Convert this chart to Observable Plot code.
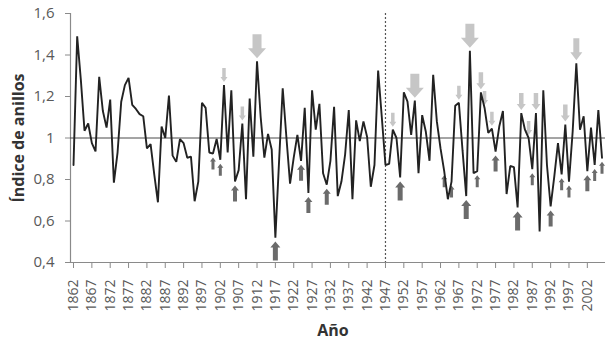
<!DOCTYPE html>
<html>
<head>
<meta charset="utf-8">
<script src="https://cdn.jsdelivr.net/npm/d3@7"></script>
<script src="https://cdn.jsdelivr.net/npm/@observablehq/plot@0.6"></script>
<style>
  html, body { margin: 0; padding: 0; background: #fff; }
  #chart svg { display: block; }
</style>
</head>
<body>
<div id="chart"></div>
<script>
// ---- data ----
const firstYear = 1862;
const ringIndex = [
  0.87, 1.49, 1.28, 1.035, 1.07, 0.975, 0.935, 1.295, 1.13, 1.05,
  1.185, 0.785, 0.93, 1.175, 1.255, 1.29, 1.16, 1.14, 1.115, 1.105,
  0.95, 0.97, 0.825, 0.69, 1.055, 1.0, 1.205, 0.915, 0.885, 0.995,
  0.975, 0.905, 0.91, 0.695, 0.79, 1.17, 1.145, 0.93, 0.925, 0.995,
  0.895, 1.255, 0.93, 1.23, 0.79, 0.845, 1.07, 0.705, 1.19, 0.91,
  1.37, 1.1, 0.905, 1.02, 0.945, 0.52, 0.885, 1.24, 1.005, 0.78,
  0.905, 1.015, 0.89, 1.145, 0.735, 1.23, 1.04, 1.165, 0.83, 0.775,
  0.89, 1.15, 0.72, 0.79, 0.92, 1.135, 0.705, 1.085, 0.985, 1.08,
  1.005, 0.765, 0.87, 1.325, 1.1, 0.87, 0.875, 1.04, 1.0, 0.81,
  1.22, 1.175, 1.015, 1.18, 0.83, 1.11, 1.03, 0.89, 1.305, 1.08,
  0.95, 0.84, 0.705, 0.79, 1.155, 1.17, 0.94, 0.72, 1.42, 0.83,
  0.84, 1.22, 1.145, 1.025, 1.045, 0.935, 1.055, 1.13, 0.73, 0.865,
  0.86, 0.665, 1.12, 1.04, 1.0, 0.85, 1.12, 0.55, 1.23, 0.87,
  0.67, 0.815, 0.975, 0.825, 1.065, 0.79, 1.03, 1.36, 1.04, 1.105,
  0.84, 1.05, 0.87, 1.135, 0.905
];
const xTicks = [1862, 1867, 1872, 1877, 1882, 1887, 1892, 1897, 1902, 1907,
  1912, 1917, 1922, 1927, 1932, 1937, 1942, 1947, 1952, 1957, 1962, 1967,
  1972, 1977, 1982, 1987, 1992, 1997, 2002];
const yTicks = [0.4, 0.6, 0.8, 1.0, 1.2, 1.4, 1.6];
const referenceLevel = [1];
const breakYear = [1947];
// light arrows pointing down onto peaks, dark arrows pointing up to troughs
const downYears = [1903, 1908, 1912, 1949, 1955, 1967, 1970, 1973, 1974, 1976, 1984, 1986, 1988, 1996, 1999];
const downTiers = [1, 1, 4, 1, 4, 1, 4, 2, 1, 1, 2, 1, 2, 2, 3];
const upYears = [1900, 1902, 1906, 1917, 1924, 1926, 1931, 1951, 1963, 1965, 1969, 1972, 1977, 1983, 1987, 1992, 1995, 1997, 2002, 2004, 2006];
const upTiers = [1, 1, 2, 3, 2, 2, 2, 3, 1, 1, 3, 1, 2, 3, 1, 2, 1, 1, 2, 1, 1];

// ---- build table ----
const series = ringIndex.map((v, i) => ({year: firstYear + i, value: v}));
const valueOf = y => series.find(d => d.year === y).value;
const downData = downYears.map((y, i) => ({year: y, value: valueOf(y), tier: downTiers[i]}));
const upData = upYears.map((y, i) => ({year: y, value: valueOf(y), tier: upTiers[i]}));

// block-arrow symbols (tip at the origin)
const downDims = {1: [7, 3.5, 5, 14], 2: [9, 4.5, 6, 17], 3: [12, 6, 8, 22], 4: [18, 9, 10, 24]};
const upDims = {1: [6, 3, 4, 12], 2: [8, 4, 5, 16], 3: [10, 5, 6, 19]};
function arrowSymbol([w, s, h, l], dir, gap) {
  return {
    draw(ctx) {
      const g = gap * dir;
      const p = [[0, 0], [w / 2, h], [s / 2, h], [s / 2, l], [-s / 2, l], [-s / 2, h], [-w / 2, h]];
      ctx.moveTo(p[0][0], g + p[0][1] * dir);
      for (let k = 1; k < p.length; k++) ctx.lineTo(p[k][0], g + p[k][1] * dir);
      ctx.closePath();
    }
  };
}

const fmtY = d => d3.format(".1~f")(d).replace(".", ",");
const xDomain = [1861.18, 2006.95];

const arrowMarks = [];
for (const t of Object.keys(downDims)) {
  arrowMarks.push(Plot.dot(downData.filter(d => d.tier === +t), {
    x: "year", y: "value", symbol: arrowSymbol(downDims[t], -1, 3),
    fill: "#c6c6c6", stroke: "none", r: 5
  }));
}
for (const t of Object.keys(upDims)) {
  arrowMarks.push(Plot.dot(upData.filter(d => d.tier === +t), {
    x: "year", y: "value", symbol: arrowSymbol(upDims[t], 1, 4),
    fill: "#6b6b6b", stroke: "none", r: 5
  }));
}

const chart = Plot.plot({
  width: 607,
  height: 339,
  marginLeft: 70,
  marginRight: 2,
  marginTop: 13,
  marginBottom: 77,
  style: {fontFamily: "'Open Sans', sans-serif", background: "#fff", color: "#595959"},
  x: {domain: xDomain, axis: null},
  y: {domain: [0.4, 1.6], axis: null},
  marks: [
    Plot.axisX(xTicks, {tickRotate: -90, tickSize: 6, tickPadding: 11, fontSize: 14,
      tickFormat: d => String(d), label: null, stroke: "#8a8a8a", fill: "#595959"}),
    Plot.axisY(yTicks, {tickSize: 5, tickPadding: 11, fontSize: 15, tickFormat: fmtY,
      label: null, stroke: "#8a8a8a", fill: "#595959"}),
    Plot.ruleY([yTicks[0]], {stroke: "#8a8a8a", strokeWidth: 1.2}),
    Plot.ruleX([xDomain[0]], {stroke: "#8a8a8a", strokeWidth: 1.2}),
    Plot.ruleX(breakYear, {stroke: "#555", strokeWidth: 1.2, strokeDasharray: "2,2"}),
    ...arrowMarks,
    Plot.ruleY(referenceLevel, {stroke: "#4a4a4a", strokeWidth: 1}),
    Plot.line(series, {x: "year", y: "value", stroke: "#222", strokeWidth: 1.9, strokeLinejoin: "miter"}),
    Plot.text(["Año"], {frameAnchor: "bottom", textAnchor: "middle", lineAnchor: "bottom", dx: -5, dy: 73, fontSize: 16, fontWeight: "bold", fill: "#333"}),
    Plot.text(["Índice de anillos"], {frameAnchor: "left", textAnchor: "middle", lineAnchor: "middle", dx: -52, dy: 0, rotate: -90, fontSize: 16, fontWeight: "bold", fill: "#333"})
  ]
});
document.getElementById("chart").appendChild(chart);
</script>
</body>
</html>
